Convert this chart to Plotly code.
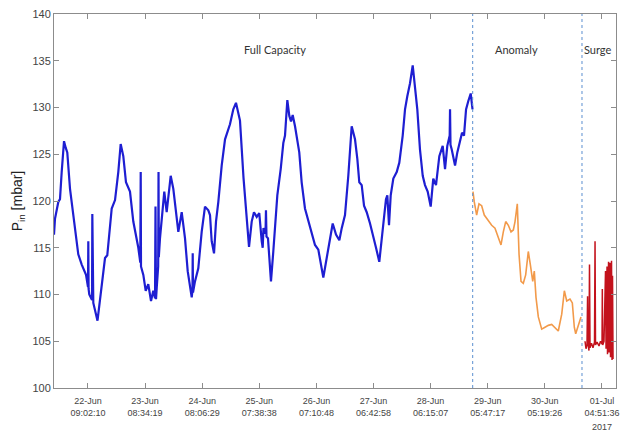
import pandas as pd
import plotly.graph_objects as go

# ---- data (time as day-of-June, 31 = 01-Jul; pressure in mbar) ----
full_day = [21.793, 21.810, 21.867, 21.896, 21.925, 21.965, 21.994, 22.021, 22.068, 22.124,
            22.210, 22.269, 22.343, 22.377, 22.382, 22.387, 22.399, 22.446, 22.451, 22.456,
            22.468, 22.540, 22.612, 22.669, 22.708, 22.784, 22.841, 22.897, 22.938, 22.983,
            23.029, 23.069, 23.098, 23.155, 23.241, 23.275, 23.282, 23.287, 23.327, 23.368,
            23.412, 23.459, 23.498, 23.528, 23.536, 23.545, 23.557, 23.582, 23.588, 23.593,
            23.613, 23.659, 23.687, 23.728, 23.756, 23.797, 23.842, 23.871, 23.928, 23.986,
            24.043, 24.089, 24.129, 24.158, 24.171, 24.175, 24.180, 24.214, 24.271, 24.329,
            24.386, 24.443, 24.472, 24.501, 24.541, 24.575, 24.615, 24.673, 24.730, 24.815,
            24.872, 24.918, 24.953, 24.987, 25.047, 25.102, 25.142, 25.188, 25.227, 25.274,
            25.318, 25.360, 25.377, 25.390, 25.425, 25.433, 25.442, 25.468, 25.519, 25.559,
            25.605, 25.628, 25.686, 25.731, 25.760, 25.800, 25.834, 25.863, 25.892, 25.932,
            26.005, 26.046, 26.103, 26.160, 26.218, 26.275, 26.332, 26.373, 26.418, 26.476,
            26.533, 26.579, 26.636, 26.693, 26.734, 26.790, 26.847, 26.905, 26.962, 27.002,
            27.036, 27.077, 27.117, 27.163, 27.220, 27.276, 27.323, 27.379, 27.437, 27.494,
            27.517, 27.546, 27.575, 27.620, 27.678, 27.723, 27.781, 27.821, 27.860, 27.907,
            27.953, 27.993, 28.032, 28.078, 28.125, 28.164, 28.210, 28.262, 28.306, 28.353,
            28.410, 28.468, 28.508, 28.547, 28.588, 28.594, 28.602, 28.623, 28.680, 28.719,
            28.765, 28.800, 28.834, 28.869, 28.908, 28.949, 28.980]
full_p = [116.4, 118.1, 119.9, 120.2, 123.1, 126.4, 125.7, 125.2, 121.3, 118.5,
          114.3, 113.2, 112.1, 110.8, 115.7, 110.6, 110.0, 109.4, 118.6, 109.3,
          109.1, 107.2, 110.7, 113.9, 114.2, 119.2, 120.1, 123.1, 126.1, 124.8,
          122.0, 121.5, 121.0, 117.8, 115.0, 113.4, 123.1, 113.0, 112.1, 110.4,
          111.1, 109.3, 110.4, 109.6, 119.4, 109.5, 110.7, 113.0, 123.1, 114.0,
          116.0, 119.5, 121.0, 118.8, 120.2, 122.7, 121.3, 119.9, 116.7, 118.8,
          116.0, 112.5, 110.7, 109.7, 110.5, 114.4, 110.2, 111.4, 112.8, 116.7,
          119.4, 119.0, 118.5, 115.7, 114.4, 117.8, 119.9, 123.8, 126.6, 128.2,
          129.8, 130.5, 129.4, 128.6, 122.5, 117.8, 115.1, 117.8, 118.8, 118.3,
          118.7, 115.7, 115.0, 117.1, 116.5, 119.0, 116.2, 116.0, 111.4, 114.6,
          118.8, 120.6, 123.4, 126.2, 127.0, 130.8, 129.1, 128.5, 129.2, 128.0,
          125.2, 122.0, 119.2, 117.8, 116.7, 115.3, 114.8, 113.5, 111.8, 113.9,
          116.0, 117.6, 116.4, 115.8, 117.1, 118.5, 122.7, 128.0, 126.6, 124.5,
          122.0, 121.7, 119.5, 118.8, 117.6, 116.0, 115.0, 113.5, 116.7, 120.2,
          120.6, 117.4, 120.6, 122.4, 123.1, 124.1, 127.0, 129.8, 131.2, 132.6,
          134.5, 132.2, 129.8, 125.5, 122.7, 121.7, 121.0, 119.4, 122.4, 121.7,
          124.8, 125.9, 123.4, 125.9, 127.0, 129.8, 126.0, 125.5, 123.8, 125.2,
          126.6, 127.3, 127.0, 129.8, 130.7, 131.5, 129.8]

anomaly_day = [28.988, 29.010, 29.051, 29.091, 29.137, 29.182, 29.241, 29.309, 29.366, 29.423,
               29.469, 29.509, 29.550, 29.595, 29.641, 29.681, 29.710, 29.749, 29.779, 29.813,
               29.852, 29.893, 29.938, 29.973, 30.014, 30.041, 30.070, 30.110, 30.168, 30.225,
               30.282, 30.340, 30.397, 30.453, 30.512, 30.557, 30.598, 30.654, 30.694, 30.728,
               30.752, 30.797, 30.843]
anomaly_p = [121.0, 119.9, 118.5, 119.7, 119.5, 118.5, 118.0, 117.4, 117.1, 116.0,
             115.3, 116.7, 117.8, 117.4, 116.7, 116.9, 117.8, 119.7, 114.3, 111.4,
             111.2, 112.1, 114.6, 113.2, 111.4, 112.5, 109.7, 107.6, 106.3, 106.5,
             106.7, 106.8, 106.5, 106.1, 107.9, 110.4, 109.3, 109.5, 109.1, 106.5,
             105.8, 106.8, 107.6]

surge_day = [30.912, 30.929, 30.946, 30.956, 30.963, 30.980, 30.989, 30.998, 31.023, 31.049,
             31.075, 31.084, 31.092, 31.118, 31.152, 31.178, 31.204, 31.209, 31.216, 31.238,
             31.264, 31.273, 31.290, 31.298, 31.316, 31.324, 31.341, 31.350, 31.367, 31.376,
             31.384, 31.393]
surge_p = [105.0, 104.2, 104.6, 109.8, 104.8, 104.0, 113.2, 104.3, 104.8, 104.3,
           104.9, 115.7, 104.6, 104.9, 104.5, 105.0, 104.7, 110.6, 104.6, 105.0,
           112.5, 104.2, 113.0, 103.6, 113.5, 103.8, 113.4, 103.3, 113.6, 103.0,
           112.0, 103.1]

phase_bounds_day = [28.983, 30.860]
phase_labels = ["Full Capacity", "Anomaly", "Surge"]
phase_label_day = [25.588, 29.727, 31.127]

tick_labels = ["22-Jun 09:02:10", "23-Jun 08:34:19", "24-Jun 08:06:29", "25-Jun 07:38:38",
               "26-Jun 07:10:48", "27-Jun 06:42:58", "28-Jun 06:15:07", "29-Jun 05:47:17",
               "30-Jun 05:19:26", "01-Jul 04:51:36"]
x_range_day = [21.793, 31.444]
y_range = [100, 140]
y_ticks = [100, 105, 110, 115, 120, 125, 130, 135, 140]

# ---- helpers ----
base = pd.Timestamp("2017-06-01")


def to_time(days):
    return [base + pd.to_timedelta(d - 1, unit="D") for d in days]


tickvals = [pd.to_datetime("2017 " + t, format="%Y %d-%b %H:%M:%S") for t in tick_labels]
ticktext = [t.replace(" ", "<br>") for t in tick_labels]

fig = go.Figure()
fig.add_trace(go.Scatter(x=to_time(full_day), y=full_p, mode="lines",
                         line=dict(color="#1e1ed2", width=2.2), showlegend=False))
fig.add_trace(go.Scatter(x=to_time(anomaly_day), y=anomaly_p, mode="lines",
                         line=dict(color="#f29a4a", width=1.6), showlegend=False))
fig.add_trace(go.Scatter(x=to_time(surge_day), y=surge_p, mode="lines",
                         line=dict(color="#c3121c", width=1.5), showlegend=False))

for xb in to_time(phase_bounds_day):
    fig.add_shape(type="line", xref="x", yref="paper", x0=xb, x1=xb, y0=0, y1=1,
                  line=dict(color="#5b8fd0", width=1, dash="3px,3px"))

for lbl, xd in zip(phase_labels, to_time(phase_label_day)):
    fig.add_annotation(x=xd, y=136.2, xref="x", yref="y", text=lbl, showarrow=False,
                       font=dict(family="Lato, Open Sans, sans-serif", size=11, color="#333333"))

fig.add_annotation(x=0.9964, y=-0.105, xref="paper", yref="paper", text="2017",
                   showarrow=False, yanchor="middle",
                   font=dict(family="Liberation Sans, Arial", size=9, color="#444444"))

axis_common = dict(showgrid=False, zeroline=False, showline=True, linecolor="#8c8c8c",
                   linewidth=1, mirror="ticks", ticks="inside", ticklen=5, tickcolor="#8c8c8c",
                   automargin=False, ticklabeloverflow="allow")

fig.update_xaxes(type="date", range=to_time(x_range_day), tickvals=tickvals, ticktext=ticktext,
                 tickfont=dict(family="Liberation Sans, Arial", size=9, color="#444444"),
                 ticklabelstandoff=4, **axis_common)
fig.update_yaxes(range=y_range, tickvals=y_ticks,
                 tickfont=dict(family="Liberation Sans, Arial", size=11, color="#444444"),
                 title=dict(text="P<sub>in</sub> [mbar]", standoff=6,
                            font=dict(family="Liberation Sans, Arial", size=14, color="#222222")),
                 **axis_common)

# page body adds an 8px offset; the figure is sized/margined to compensate
fig.update_layout(width=622, height=424, margin=dict(l=46, r=14, t=6, b=44),
                  plot_bgcolor="white", paper_bgcolor="white")

fig.write_html("out.html")
